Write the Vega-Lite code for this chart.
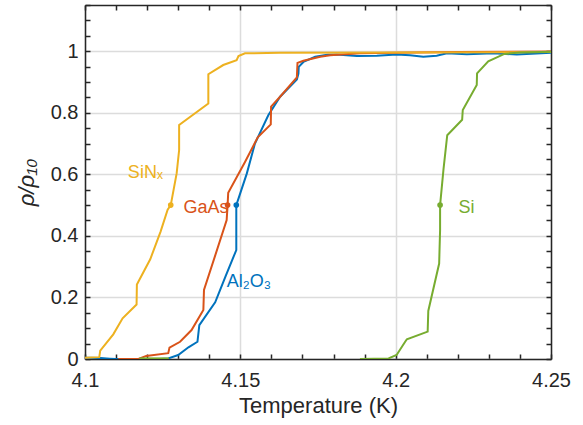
{
  "$schema": "https://vega.github.io/schema/vega-lite/v6.json",
  "width": 466,
  "height": 354,
  "autosize": "none",
  "padding": {"left": 85, "top": 5, "right": 32, "bottom": 66},
  "background": "white",
  "config": {"view": {"stroke": null}},
  "data": {"values": [
      {"kind": "c", "series": "Al2O3", "seg": "a", "T": 4.1000, "r": 0.004},
      {"kind": "c", "series": "Al2O3", "seg": "a", "T": 4.1050, "r": 0.003},
      {"kind": "c", "series": "Al2O3", "seg": "a", "T": 4.1080, "r": 0.001},
      {"kind": "c", "series": "Al2O3", "seg": "a", "T": 4.1100, "r": 0.000},
      {"kind": "c", "series": "Al2O3", "seg": "a", "T": 4.1240, "r": 0.000},
      {"kind": "c", "series": "Al2O3", "seg": "a", "T": 4.1268, "r": 0.002},
      {"kind": "c", "series": "Al2O3", "seg": "a", "T": 4.1300, "r": 0.013},
      {"kind": "c", "series": "Al2O3", "seg": "a", "T": 4.1333, "r": 0.038},
      {"kind": "c", "series": "Al2O3", "seg": "a", "T": 4.1362, "r": 0.056},
      {"kind": "c", "series": "Al2O3", "seg": "a", "T": 4.1368, "r": 0.110},
      {"kind": "c", "series": "Al2O3", "seg": "a", "T": 4.1419, "r": 0.184},
      {"kind": "c", "series": "Al2O3", "seg": "a", "T": 4.1453, "r": 0.270},
      {"kind": "c", "series": "Al2O3", "seg": "a", "T": 4.1487, "r": 0.354},
      {"kind": "c", "series": "Al2O3", "seg": "a", "T": 4.1487, "r": 0.500},
      {"kind": "c", "series": "Al2O3", "seg": "a", "T": 4.1521, "r": 0.603},
      {"kind": "c", "series": "Al2O3", "seg": "a", "T": 4.1547, "r": 0.700},
      {"kind": "c", "series": "Al2O3", "seg": "a", "T": 4.1590, "r": 0.792},
      {"kind": "c", "series": "Al2O3", "seg": "a", "T": 4.1628, "r": 0.852},
      {"kind": "c", "series": "Al2O3", "seg": "a", "T": 4.1682, "r": 0.908},
      {"kind": "c", "series": "Al2O3", "seg": "a", "T": 4.1687, "r": 0.927},
      {"kind": "c", "series": "Al2O3", "seg": "a", "T": 4.1688, "r": 0.949},
      {"kind": "c", "series": "Al2O3", "seg": "a", "T": 4.1703, "r": 0.965},
      {"kind": "c", "series": "Al2O3", "seg": "a", "T": 4.1741, "r": 0.982},
      {"kind": "c", "series": "Al2O3", "seg": "a", "T": 4.1780, "r": 0.988},
      {"kind": "c", "series": "Al2O3", "seg": "a", "T": 4.1810, "r": 0.989},
      {"kind": "c", "series": "Al2O3", "seg": "a", "T": 4.1875, "r": 0.984},
      {"kind": "c", "series": "Al2O3", "seg": "a", "T": 4.1939, "r": 0.985},
      {"kind": "c", "series": "Al2O3", "seg": "a", "T": 4.2003, "r": 0.989},
      {"kind": "c", "series": "Al2O3", "seg": "a", "T": 4.2046, "r": 0.987},
      {"kind": "c", "series": "Al2O3", "seg": "a", "T": 4.2089, "r": 0.982},
      {"kind": "c", "series": "Al2O3", "seg": "a", "T": 4.2132, "r": 0.985},
      {"kind": "c", "series": "Al2O3", "seg": "a", "T": 4.2165, "r": 0.993},
      {"kind": "c", "series": "Al2O3", "seg": "a", "T": 4.2229, "r": 0.990},
      {"kind": "c", "series": "Al2O3", "seg": "a", "T": 4.2315, "r": 0.993},
      {"kind": "c", "series": "Al2O3", "seg": "a", "T": 4.2390, "r": 0.989},
      {"kind": "c", "series": "Al2O3", "seg": "a", "T": 4.2500, "r": 0.995},
      {"kind": "c", "series": "GaAs", "seg": "a", "T": 4.1107, "r": 0.000},
      {"kind": "c", "series": "GaAs", "seg": "a", "T": 4.1172, "r": 0.000},
      {"kind": "c", "series": "GaAs", "seg": "a", "T": 4.1197, "r": 0.010},
      {"kind": "c", "series": "GaAs", "seg": "a", "T": 4.1268, "r": 0.019},
      {"kind": "c", "series": "GaAs", "seg": "a", "T": 4.1272, "r": 0.037},
      {"kind": "c", "series": "GaAs", "seg": "a", "T": 4.1306, "r": 0.056},
      {"kind": "c", "series": "GaAs", "seg": "a", "T": 4.1343, "r": 0.094},
      {"kind": "c", "series": "GaAs", "seg": "a", "T": 4.1381, "r": 0.159},
      {"kind": "c", "series": "GaAs", "seg": "a", "T": 4.1383, "r": 0.224},
      {"kind": "c", "series": "GaAs", "seg": "a", "T": 4.1456, "r": 0.451},
      {"kind": "c", "series": "GaAs", "seg": "a", "T": 4.1459, "r": 0.500},
      {"kind": "c", "series": "GaAs", "seg": "a", "T": 4.1461, "r": 0.540},
      {"kind": "c", "series": "GaAs", "seg": "a", "T": 4.1515, "r": 0.640},
      {"kind": "c", "series": "GaAs", "seg": "a", "T": 4.1556, "r": 0.720},
      {"kind": "c", "series": "GaAs", "seg": "a", "T": 4.1598, "r": 0.762},
      {"kind": "c", "series": "GaAs", "seg": "a", "T": 4.1599, "r": 0.820},
      {"kind": "c", "series": "GaAs", "seg": "a", "T": 4.1628, "r": 0.852},
      {"kind": "c", "series": "GaAs", "seg": "a", "T": 4.1682, "r": 0.915},
      {"kind": "c", "series": "GaAs", "seg": "a", "T": 4.1684, "r": 0.962},
      {"kind": "c", "series": "GaAs", "seg": "a", "T": 4.1703, "r": 0.969},
      {"kind": "c", "series": "GaAs", "seg": "a", "T": 4.1757, "r": 0.982},
      {"kind": "c", "series": "GaAs", "seg": "a", "T": 4.1789, "r": 0.987},
      {"kind": "c", "series": "GaAs", "seg": "a", "T": 4.1885, "r": 0.993},
      {"kind": "c", "series": "GaAs", "seg": "a", "T": 4.2000, "r": 0.995},
      {"kind": "c", "series": "GaAs", "seg": "a", "T": 4.2200, "r": 0.997},
      {"kind": "c", "series": "GaAs", "seg": "a", "T": 4.2500, "r": 0.999},
      {"kind": "c", "series": "SiNx", "seg": "a", "T": 4.1000, "r": 0.004},
      {"kind": "c", "series": "SiNx", "seg": "a", "T": 4.1046, "r": 0.006},
      {"kind": "c", "series": "SiNx", "seg": "a", "T": 4.1049, "r": 0.027},
      {"kind": "c", "series": "SiNx", "seg": "a", "T": 4.1091, "r": 0.080},
      {"kind": "c", "series": "SiNx", "seg": "a", "T": 4.1121, "r": 0.132},
      {"kind": "c", "series": "SiNx", "seg": "a", "T": 4.1166, "r": 0.177},
      {"kind": "c", "series": "SiNx", "seg": "a", "T": 4.1167, "r": 0.242},
      {"kind": "c", "series": "SiNx", "seg": "a", "T": 4.1210, "r": 0.324},
      {"kind": "c", "series": "SiNx", "seg": "a", "T": 4.1243, "r": 0.413},
      {"kind": "c", "series": "SiNx", "seg": "a", "T": 4.1266, "r": 0.485},
      {"kind": "c", "series": "SiNx", "seg": "a", "T": 4.1276, "r": 0.500},
      {"kind": "c", "series": "SiNx", "seg": "a", "T": 4.1295, "r": 0.603},
      {"kind": "c", "series": "SiNx", "seg": "a", "T": 4.1303, "r": 0.679},
      {"kind": "c", "series": "SiNx", "seg": "a", "T": 4.1303, "r": 0.760},
      {"kind": "c", "series": "SiNx", "seg": "a", "T": 4.1397, "r": 0.830},
      {"kind": "c", "series": "SiNx", "seg": "a", "T": 4.1397, "r": 0.925},
      {"kind": "c", "series": "SiNx", "seg": "a", "T": 4.1445, "r": 0.955},
      {"kind": "c", "series": "SiNx", "seg": "a", "T": 4.1488, "r": 0.971},
      {"kind": "c", "series": "SiNx", "seg": "a", "T": 4.1494, "r": 0.984},
      {"kind": "c", "series": "SiNx", "seg": "a", "T": 4.1515, "r": 0.993},
      {"kind": "c", "series": "SiNx", "seg": "a", "T": 4.1628, "r": 0.995},
      {"kind": "c", "series": "SiNx", "seg": "a", "T": 4.2000, "r": 0.996},
      {"kind": "c", "series": "SiNx", "seg": "a", "T": 4.2500, "r": 0.997},
      {"kind": "c", "series": "Si", "seg": "a", "T": 4.1175, "r": 0.002},
      {"kind": "c", "series": "Si", "seg": "a", "T": 4.1270, "r": 0.002},
      {"kind": "c", "series": "Si", "seg": "b", "T": 4.1885, "r": 0.000},
      {"kind": "c", "series": "Si", "seg": "b", "T": 4.1977, "r": 0.002},
      {"kind": "c", "series": "Si", "seg": "b", "T": 4.2003, "r": 0.013},
      {"kind": "c", "series": "Si", "seg": "b", "T": 4.2030, "r": 0.055},
      {"kind": "c", "series": "Si", "seg": "b", "T": 4.2036, "r": 0.064},
      {"kind": "c", "series": "Si", "seg": "b", "T": 4.2103, "r": 0.089},
      {"kind": "c", "series": "Si", "seg": "b", "T": 4.2105, "r": 0.156},
      {"kind": "c", "series": "Si", "seg": "b", "T": 4.2140, "r": 0.310},
      {"kind": "c", "series": "Si", "seg": "b", "T": 4.2143, "r": 0.419},
      {"kind": "c", "series": "Si", "seg": "b", "T": 4.2143, "r": 0.500},
      {"kind": "c", "series": "Si", "seg": "b", "T": 4.2154, "r": 0.617},
      {"kind": "c", "series": "Si", "seg": "b", "T": 4.2166, "r": 0.727},
      {"kind": "c", "series": "Si", "seg": "b", "T": 4.2214, "r": 0.777},
      {"kind": "c", "series": "Si", "seg": "b", "T": 4.2216, "r": 0.809},
      {"kind": "c", "series": "Si", "seg": "b", "T": 4.2261, "r": 0.890},
      {"kind": "c", "series": "Si", "seg": "b", "T": 4.2262, "r": 0.928},
      {"kind": "c", "series": "Si", "seg": "b", "T": 4.2298, "r": 0.967},
      {"kind": "c", "series": "Si", "seg": "b", "T": 4.2350, "r": 0.991},
      {"kind": "c", "series": "Si", "seg": "b", "T": 4.2400, "r": 0.996},
      {"kind": "c", "series": "Si", "seg": "b", "T": 4.2500, "r": 0.998},
      {"kind": "m", "series": "SiNx", "T": 4.1276, "r": 0.5},
      {"kind": "m", "series": "GaAs", "T": 4.1459, "r": 0.5},
      {"kind": "m", "series": "Al2O3", "T": 4.1487, "r": 0.5},
      {"kind": "m", "series": "Si", "T": 4.2143, "r": 0.5},
      {"kind": "l", "series": "SiNx", "label": "SiNₓ", "T": 4.1138, "r": 0.588},
      {"kind": "l", "series": "GaAs", "label": "GaAs", "T": 4.1317, "r": 0.473},
      {"kind": "l", "series": "Al2O3", "label": "Al₂O₃", "T": 4.1456, "r": 0.235},
      {"kind": "l", "series": "Si", "label": "Si", "T": 4.2202, "r": 0.473}
  ]},
  "layer": [
    {
      "transform": [{"filter": "datum.kind === 'c'"}],
      "mark": {"type": "line", "strokeWidth": 2, "clip": true},
      "encoding": {
        "x": {
          "field": "T", "type": "quantitative",
          "scale": {"domain": [4.1, 4.25], "nice": false, "zero": false},
          "axis": {
            "orient": "bottom", "values": [4.1, 4.15, 4.2, 4.25], "format": ".3~f",
            "grid": true, "gridColor": "#dcdcdc", "gridWidth": 1.5,
            "ticks": false, "domain": true, "domainColor": "#262626", "domainWidth": 1.5,
            "labelFont": "Liberation Sans", "labelFontSize": 20, "labelColor": "#262626", "labelFlush": false,
            "labelPadding": 11, "title": "Temperature (K)", "titlePadding": 5,
            "titleFont": "Liberation Sans", "titleFontSize": 22, "titleFontWeight": "normal", "titleColor": "#262626"
          }
        },
        "y": {
          "field": "r", "type": "quantitative",
          "scale": {"domain": [0, 1.15], "nice": false, "zero": false},
          "axis": {
            "orient": "left", "values": [0, 0.2, 0.4, 0.6, 0.8, 1], "format": ".1~f",
            "grid": true, "gridColor": "#dcdcdc", "gridWidth": 1.5,
            "ticks": false, "domain": true, "domainColor": "#262626", "domainWidth": 1.5,
            "labelFont": "Liberation Sans", "labelFontSize": 20, "labelColor": "#262626",
            "labelPadding": 7, "title": "ρ/ρ₁₀", "titlePadding": 12,
            "titleFont": "Liberation Sans", "titleFontSize": 22, "titleFontWeight": "normal", "titleColor": "#262626", "titleFontStyle": "italic"
          }
        },
        "color": {
          "field": "series", "type": "nominal",
          "scale": {"domain": ["Al2O3", "GaAs", "SiNx", "Si"], "range": ["#0072BD", "#D95319", "#EDB120", "#77AC30"]},
          "legend": null
        },
        "detail": {"field": "seg"},
        "order": {"value": null}
      }
    },
    {
      "transform": [{"filter": "datum.kind === 'm'"}],
      "mark": {"type": "point", "filled": true, "size": 32, "opacity": 1},
      "encoding": {
        "x": {
          "field": "T", "type": "quantitative",
          "axis": {
            "orient": "bottom",
            "values": [4.1, 4.11, 4.12, 4.13, 4.14, 4.15, 4.16, 4.17, 4.18, 4.19, 4.2, 4.21, 4.22, 4.23, 4.24, 4.25],
            "labels": false, "ticks": false, "domain": false, "title": null,
            "grid": true, "gridColor": "#262626", "gridWidth": 1.5, "gridDash": [5, 344, 5]
          }
        },
        "y": {
          "field": "r", "type": "quantitative",
          "axis": {
            "orient": "left",
            "values": [0, 0.05, 0.1, 0.15, 0.2, 0.25, 0.3, 0.35, 0.4, 0.45, 0.5, 0.55, 0.6, 0.65, 0.7, 0.75, 0.8, 0.85, 0.9, 0.95, 1, 1.05, 1.1, 1.15],
            "labels": false, "ticks": false, "domain": false, "title": null,
            "grid": true, "gridColor": "#262626", "gridWidth": 1.5, "gridDash": [5, 456, 5]
          }
        },
        "color": {"field": "series", "type": "nominal", "legend": null}
      }
    },
    {
      "transform": [{"filter": "datum.kind === 'l'"}],
      "mark": {"type": "text", "align": "left", "baseline": "alphabetic", "fontSize": 18, "font": "Liberation Sans"},
      "encoding": {
        "x": {
          "field": "T", "type": "quantitative",
          "axis": {
            "orient": "top", "labels": false, "ticks": false, "grid": false, "title": null,
            "domain": true, "domainColor": "#262626", "domainWidth": 1.5
          }
        },
        "y": {
          "field": "r", "type": "quantitative",
          "axis": {
            "orient": "right", "labels": false, "ticks": false, "grid": false, "title": null,
            "domain": true, "domainColor": "#262626", "domainWidth": 1.5
          }
        },
        "text": {"field": "label"},
        "color": {"field": "series", "type": "nominal", "legend": null}
      }
    }
  ],
  "resolve": {"axis": {"x": "independent", "y": "independent"}}
}
